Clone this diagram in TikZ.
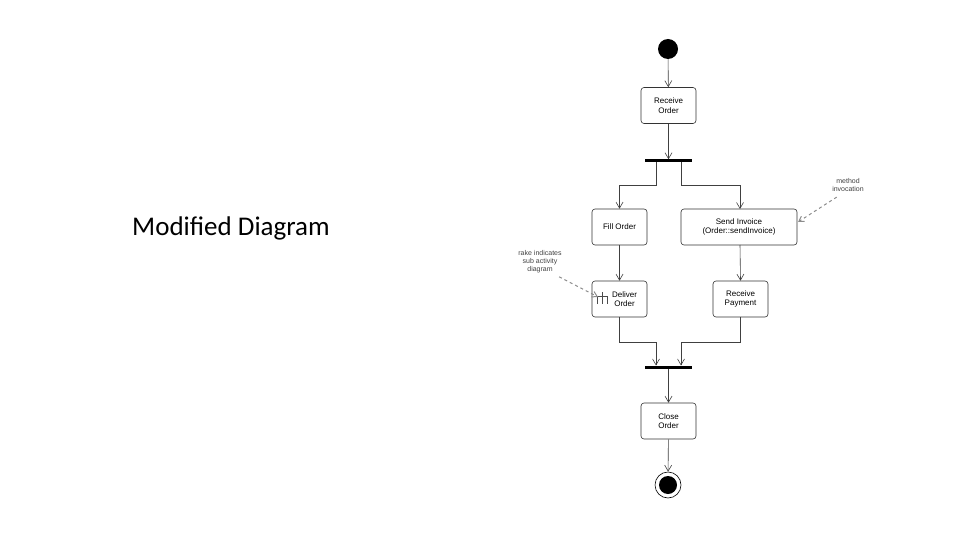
\documentclass[tikz,border=0pt]{standalone}
\usepackage{fontspec}
\setmainfont{Liberation Sans}
\newfontfamily\titlefont{Carlito}
\usetikzlibrary{arrows.meta}
\begin{document}
\begin{tikzpicture}[x=1pt,y=-1pt,
  act/.style={draw=black!80,rounded corners=3pt,minimum height=36pt,align=center,font=\fontsize{8}{9.5}\selectfont,line width=0.6pt},
  bar/.style={fill=black,minimum width=47pt,minimum height=3pt,inner sep=0pt},
  flow/.style={draw=black!75,line width=0.6pt,-{Straight Barb[length=6pt,width=7pt]}},
  note/.style={font=\fontsize{7}{8}\selectfont,align=center,text=black!75},
  noteline/.style={draw=black!45,dashed,line width=1pt,-{Straight Barb[length=5pt,width=6pt]}}]
\useasboundingbox (0,0) rectangle (960,540);
\node[font=\fontsize{27}{30}\selectfont\titlefont] (title) at (231,228) {Modified Diagram};
\node[circle,fill=black,minimum size=20pt,inner sep=0pt] (start) at (668,49) {};
\node[act,minimum width=55pt] (recv) at (668.5,105.5) {Receive\\Order};
\node[bar] (fork) at (668.5,161) {};
\node[act,minimum width=55pt] (fill) at (619.5,227) {Fill Order};
\node[act,minimum width=116pt] (send) at (739,227) {Send Invoice\\(Order::sendInvoice)};
\node[act,minimum width=55pt] (deliv) at (619.5,299) {\hspace{10pt}Deliver\\\hspace{10pt}Order};
\node[act,minimum width=55pt] (pay) at (740.5,299) {Receive\\Payment};
\node[bar] (join) at (668.5,367) {};
\node[act,minimum width=55pt] (close) at (668.5,421) {Close\\Order};
\node[circle,draw=black,line width=0.6pt,minimum size=26pt,inner sep=0pt] (end) at (668,485) {};
\node[circle,fill=black,minimum size=18pt,inner sep=0pt] at (end) {};
% rake
\draw[black!70,line width=0.6pt] (597,304) -- (597,296) -- (607,296) -- (607,304) (602,292) -- (602,304);
\node[note] (n1) at (848,185) {method\\invocation};
\node[note] (n2) at (540,262) {rake indicates\\sub activity\\diagram};
\draw[flow] (start) -- (recv);
\draw[flow] (recv) -- (fork);
\draw[flow] (656,162.5) -- (656,185) -| (fill.north);
\draw[flow] (681,162.5) -- (681,185) -| (740,209);
\draw[flow] (fill) -- (deliv);
\draw[flow] (740,245) -- (pay.north);
\draw[flow] (deliv.south) |- (656,342) -- (656,365.5);
\draw[flow] (pay.south) |- (681,342) -- (681,365.5);
\draw[flow] (join) -- (close);
\draw[flow] (close) -- (end);
\draw[noteline] (n1.south west)+(8,2) -- (798,222);
\draw[noteline] (n2.south east)+(-6,0) -- (598,297);
\end{tikzpicture}
\end{document}
